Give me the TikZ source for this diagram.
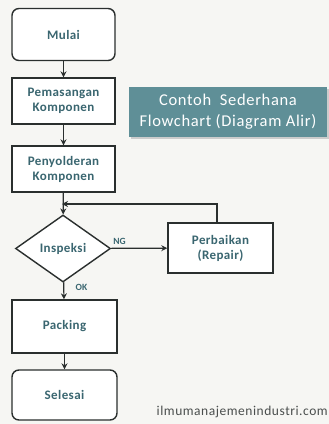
\documentclass[tikz,border=0pt]{standalone}
\usepackage{fontspec}
\setmainfont{Carlito}
\newfontfamily\wide[LetterSpace=4]{Carlito}
\newfontfamily\widebold[LetterSpace=3]{Carlito Bold}
\usetikzlibrary{shapes.geometric,arrows.meta}
\definecolor{ink}{HTML}{2A2F2E}
\definecolor{txt}{HTML}{3A6670}
\definecolor{teal}{HTML}{5F8F97}
\definecolor{bg}{HTML}{F6F6F3}
\begin{document}
\begin{tikzpicture}[x=1pt,y=-1pt,
  box/.style={draw=ink,line width=1.4pt,fill=white,minimum width=103pt,minimum height=46pt,align=center,font=\widebold\fontsize{13}{15}\selectfont,text=txt,inner sep=1pt},
  rbox/.style={box,rounded corners=7pt,minimum height=52pt},
  dia/.style={draw=ink,line width=1.4pt,fill=white,diamond,aspect=1.4,minimum width=95pt,minimum height=67pt,inner sep=0pt,font=\widebold\fontsize{13}{15}\selectfont,text=txt},
  arr/.style={draw=ink,line width=1.2pt,-{Stealth[length=6pt,width=6pt]}},
  lbl/.style={font=\bfseries\fontsize{9.5}{10}\selectfont,text=txt}]
\fill[bg] (0,0) rectangle (329,424);
\useasboundingbox (0,0) rectangle (329,424);
\node[rbox] (mulai) at (63.5,34.5) {Mulai};
\node[box] (pasang) at (63.5,101) {Pemasangan\\Komponen};
\node[box] (solder) at (63.5,169) {Penyolderan\\Komponen};
\node[dia] (insp) at (63,248.5) {Inspeksi};
\node[box,minimum width=105pt,minimum height=50pt] (repair) at (220.5,248) {Perbaikan\\(Repair)};
\node[box,minimum width=105pt,minimum height=53pt] (pack) at (64.5,326.5) {Packing};
\node[rbox,minimum width=105pt,minimum height=50pt] (selesai) at (64.5,395) {Selesai};
\coordinate (join) at (63,204);
\draw[arr] (mulai) -- (pasang);
\draw[arr] (pasang) -- (solder);
\draw[arr] (solder) -- (insp);
\draw[arr] (insp) -- node[lbl,above,pos=0.15] {NG} (repair);
\draw[arr] (insp) -- node[lbl,right,pos=0.3,xshift=8pt] {OK} (pack);
\draw[arr] (pack) -- (selesai);
\draw[draw=ink,line width=1.2pt] (repair.north -| 217,0) |- (join);
\draw[arr,shorten >=-1pt] (80,204) -- (join);
\fill[gray!40] (131,89) rectangle (329,139);
\node[fill=teal,minimum width=198pt,minimum height=50pt,align=center,text=white,font=\wide\fontsize{16.5}{21}\selectfont,inner sep=0pt] (title) at (228,111.5) {Contoh\ \ Sederhana\\Flowchart (Diagram Alir)};
\node[anchor=east,font=\wide\fontsize{13.5}{14}\selectfont,text=ink!85,inner sep=1pt] (site) at (329,412) {ilmumanajemenindustri.com};
\end{tikzpicture}
\end{document}
